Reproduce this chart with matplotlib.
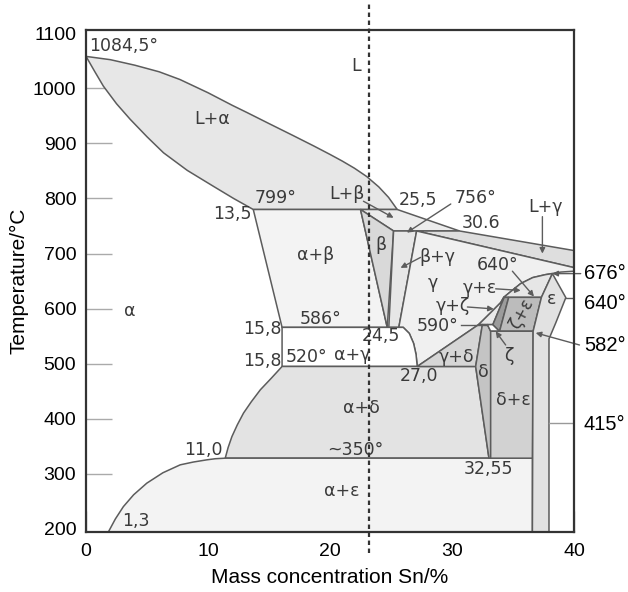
import matplotlib.pyplot as plt
from matplotlib.transforms import blended_transform_factory

plt.rcParams['font.family'] = ['Liberation Sans', 'DejaVu Sans']

LINE = '#5c5c5c'
TXT = '#3a3a3a'

# phase boundaries: (Sn mass %, temperature degC)
liq_x = [0, 2, 4, 6, 7.7, 10, 12, 13.2, 15, 17, 18.7, 20, 21, 22, 23, 24, 24.8, 25.51]
liq_t = [1058, 1052, 1042, 1030, 1016, 992, 969, 956, 936, 914, 895, 880, 868, 855, 840, 821, 802, 780]
sol_x = [0, 0.7, 1.42, 2.5, 3.61, 5, 6.35, 8.3, 10.45, 12.1, 13.71]
sol_t = [1058, 1031, 1004, 972, 944, 912, 883, 851, 822, 800, 780]

# right side of gamma, border (676) down to the 590 line
arc_x = [40, 38.92, 37.68, 36.62, 35.63, 34.81, 34.24, 33.99, 33.17, 32.18]
arc_t = [668, 666.4, 661.8, 656.4, 645.5, 630.9, 620.5, 610.9, 592.7, 571]

# gamma lower-left boundary (586 -> 520)
gam_low_x = [26.0, 26.5, 26.85, 27.05, 27.15]
gam_low_t = [566, 555, 537, 517, 495]

# alpha solvus 520 -> 350 and alpha / alpha+eps 350 -> bottom
solv_x = [16.07, 15.2, 14.29, 13.55, 12.91, 12.4, 11.96, 11.65, 11.41]
solv_t = [495, 474, 452.7, 431, 410.4, 389, 367.8, 348, 328.5]
ae_x = [11.41, 10.6, 9.91, 8.8, 7.72, 6.3, 4.98, 3.9, 3.06, 2.4, 1.83]
ae_t = [328.5, 327.5, 325.5, 321.5, 316.4, 302, 283.1, 262, 240.5, 218, 194.5]

l_beta = [(22.5, 780), (25.51, 780), (30.62, 741), (25.21, 741)]
l_gamma = [(27.1, 741), (30.62, 741), (40, 705.5), (40, 674.5)]
a_beta = [(13.71, 780), (22.5, 780), (24.69, 566), (16.07, 566)]
beta = [(22.5, 780), (25.21, 741), (24.69, 566)]
b_gamma = [(25.21, 741), (27.1, 741), (25.64, 566), (24.82, 566)]
g_delta = [(27.15, 495), (32.18, 571), (32.49, 571), (31.94, 495)]
delta = [(32.49, 571), (32.9, 571), (33.17, 559), (33.17, 328.5), (33.03, 328.5), (31.94, 495)]
gap = [(32.9, 571), (33.35, 571), (33.9, 559), (33.17, 559)]
zeta = [(34.28, 620.5), (34.65, 620.5), (33.9, 559), (33.35, 571)]
z_eps = [(34.65, 620.5), (37.33, 620.5), (36.65, 559), (33.9, 559)]
d_eps = [(33.17, 559), (36.65, 559), (36.59, 328.5), (33.17, 328.5)]
eps = [(38.23, 663.6), (39.33, 620), (38.51, 574.4), (37.95, 545), (37.95, 194.5),
       (36.59, 194.5), (36.65, 559), (37.33, 620.5)]

regions = [
    ('L+a', list(zip(liq_x, liq_t)) + list(zip(sol_x, sol_t))[::-1], '#e7e7e7'),
    ('L+b', l_beta, '#ececec'),
    ('L+g', l_gamma, '#dedede'),
    ('a+b', a_beta, '#f3f3f3'),
    ('b', beta, '#d9d9d9'),
    ('b+g', b_gamma, '#e7e7e7'),
    ('g', [(25.64, 566), (27.1, 741), (40, 674.5)] + list(zip(arc_x, arc_t))
     + list(zip(gam_low_x, gam_low_t))[::-1], '#f0f0f0'),
    ('a+g', [(16.07, 566)] + list(zip(gam_low_x, gam_low_t)) + [(16.07, 495)], '#ffffff'),
    ('a+d', [(16.07, 495), (31.94, 495), (33.03, 328.5)] + list(zip(solv_x, solv_t))[::-1],
     '#e3e3e3'),
    ('a+e', [(36.59, 328.5), (36.59, 194.5)] + list(zip(ae_x, ae_t))[::-1], '#f3f3f3'),
    ('g+z', list(zip(arc_x, arc_t))[6:][::-1] + [(34.28, 620.5), (33.35, 571)], '#e9e9e9'),
    ('g+e', list(zip(arc_x, arc_t))[2:7][::-1] + [(38.23, 663.6), (37.33, 620.5)], '#e6e6e6'),
    ('g+d', g_delta, '#d6d6d6'),
    ('d', delta, '#c4c4c4'),
    ('gap', gap, '#ffffff'),
    ('z', zeta, '#9c9c9c'),
    ('z+e', z_eps, '#bcbcbc'),
    ('d+e', d_eps, '#d2d2d2'),
    ('e', eps, '#e2e2e2'),
]

labels = [
    ('1084,5°', 0.25, 1076, 'left'), ('L', 22.1, 1040, 'center'),
    ('L+α', 10.3, 944, 'center'), ('799°', 15.5, 800, 'center'),
    ('L+β', 21.4, 809, 'center'), ('13,5', 13.6, 771, 'right'),
    ('25,5', 27.2, 798, 'center'), ('756°', 31.9, 800, 'center'),
    ('30.6', 32.35, 756, 'center'), ('L+γ', 37.7, 784, 'center'),
    ('β', 24.2, 716, 'center'), ('β+γ', 28.8, 694, 'center'),
    ('γ', 28.4, 647, 'center'), ('640°', 33.7, 680, 'center'),
    ('γ+ε', 32.3, 638, 'center'), ('γ+ζ', 30.1, 604, 'center'),
    ('590°', 28.8, 569, 'center'), ('ε', 38.2, 618, 'center'),
    ('ζ', 34.7, 514, 'center'), ('α+β', 18.8, 698, 'center'),
    ('α', 3.6, 596, 'center'), ('15,8', 16.0, 563, 'right'),
    ('586°', 19.2, 582, 'center'), ('24,5', 24.2, 551, 'center'),
    ('15,8', 16.0, 505, 'right'), ('520°', 18.1, 513, 'center'),
    ('α+γ', 21.8, 516, 'center'), ('γ+δ', 30.4, 513, 'center'),
    ('27,0', 27.3, 478, 'center'), ('δ', 32.6, 485, 'center'),
    ('δ+ε', 35.0, 434, 'center'), ('32,55', 33.0, 309, 'center'),
    ('α+δ', 22.6, 420, 'center'), ('~350°', 22.1, 344, 'center'),
    ('11,0', 9.6, 344, 'center'), ('α+ε', 21.0, 269, 'center'),
    ('1,3', 4.1, 214, 'center'),
]

# (from x, from t, to x, to t)
arrows = [
    (22.74, 795, 25.21, 765), (29.9, 790, 26.3, 738), (27.42, 693, 25.78, 674),
    (37.41, 767, 37.41, 700), (34.95, 668, 36.72, 622), (33.58, 636, 35.63, 633),
    (31.26, 603, 33.42, 599.5), (34.4, 534, 33.58, 558.7),
    (40.55, 663.6, 38.23, 663.6), (40.45, 534, 36.86, 556),
]

right_labels = [('676°', 663.6), ('640°', 609), ('582°', 532.7), ('415°', 389)]
dash_x = 23.18

fig = plt.figure(figsize=(6.28, 5.92), dpi=100)
ax = fig.add_axes([0.137, 0.1014, 0.777, 0.848])

for name, pts, col in regions:
    xs, ts = zip(*pts)
    ax.fill(xs, ts, facecolor=col, edgecolor=LINE, lw=1.1, zorder=2)

ax.plot([30.7, 32.85], [571, 571], color=LINE, lw=1.0, zorder=3)
ax.plot([39.33, 40], [620, 620], color=LINE, lw=1.0, zorder=3)
ax.plot([37.95, 40], [392.7, 392.7], color='#999999', lw=1.0, zorder=3)

for x0, t0, x1, t1 in arrows:
    ax.annotate('', xy=(x1, t1), xytext=(x0, t0), annotation_clip=False,
                arrowprops=dict(arrowstyle='-|>', color=LINE, lw=1.0,
                                mutation_scale=8, shrinkA=0, shrinkB=0), zorder=5)

for txt, x, t, ha in labels:
    ax.text(x, t, txt, ha=ha, va='center', fontsize=12.5, color=TXT,
            family='DejaVu Sans', zorder=6)
ax.text(35.7, 590, 'ζ+ε', rotation=62, ha='center', va='center', fontsize=12,
        color=TXT, family='DejaVu Sans', zorder=6)

for txt, t in right_labels:
    ax.text(40.8, t, txt, ha='left', va='center', fontsize=14.5, color='black',
            clip_on=False)

trans = blended_transform_factory(ax.transData, ax.transAxes)
ax.plot([dash_x, dash_x], [-0.042, 1.054], transform=trans, color='#333333',
        lw=1.6, ls=(0, (2, 1.6)), clip_on=False, zorder=7)

ax.set_xlim(0, 40)
ax.set_ylim(194.5, 1106)
ax.set_xticks([0, 10, 20, 30, 40])
ax.set_yticks(range(200, 1101, 100))
ax.tick_params(axis='y', direction='in', length=19, width=1.0, color='#aaaaaa',
               labelsize=14, pad=7)
ax.tick_params(axis='x', direction='in', length=15, width=1.0, color='#aaaaaa',
               labelsize=14, pad=8)
ax.yaxis.get_major_ticks()[-1].tick1line.set_visible(False)
ax.yaxis.get_major_ticks()[0].tick1line.set_visible(False)
for s in ax.spines.values():
    s.set_color('#333333')
    s.set_linewidth(1.6)
    s.set_zorder(8)

ax.set_xlabel('Mass concentration Sn/%', fontsize=15, labelpad=6)
ax.set_ylabel('Temperature/°C', fontsize=15, labelpad=3)

fig.savefig('out.png', dpi=100)
